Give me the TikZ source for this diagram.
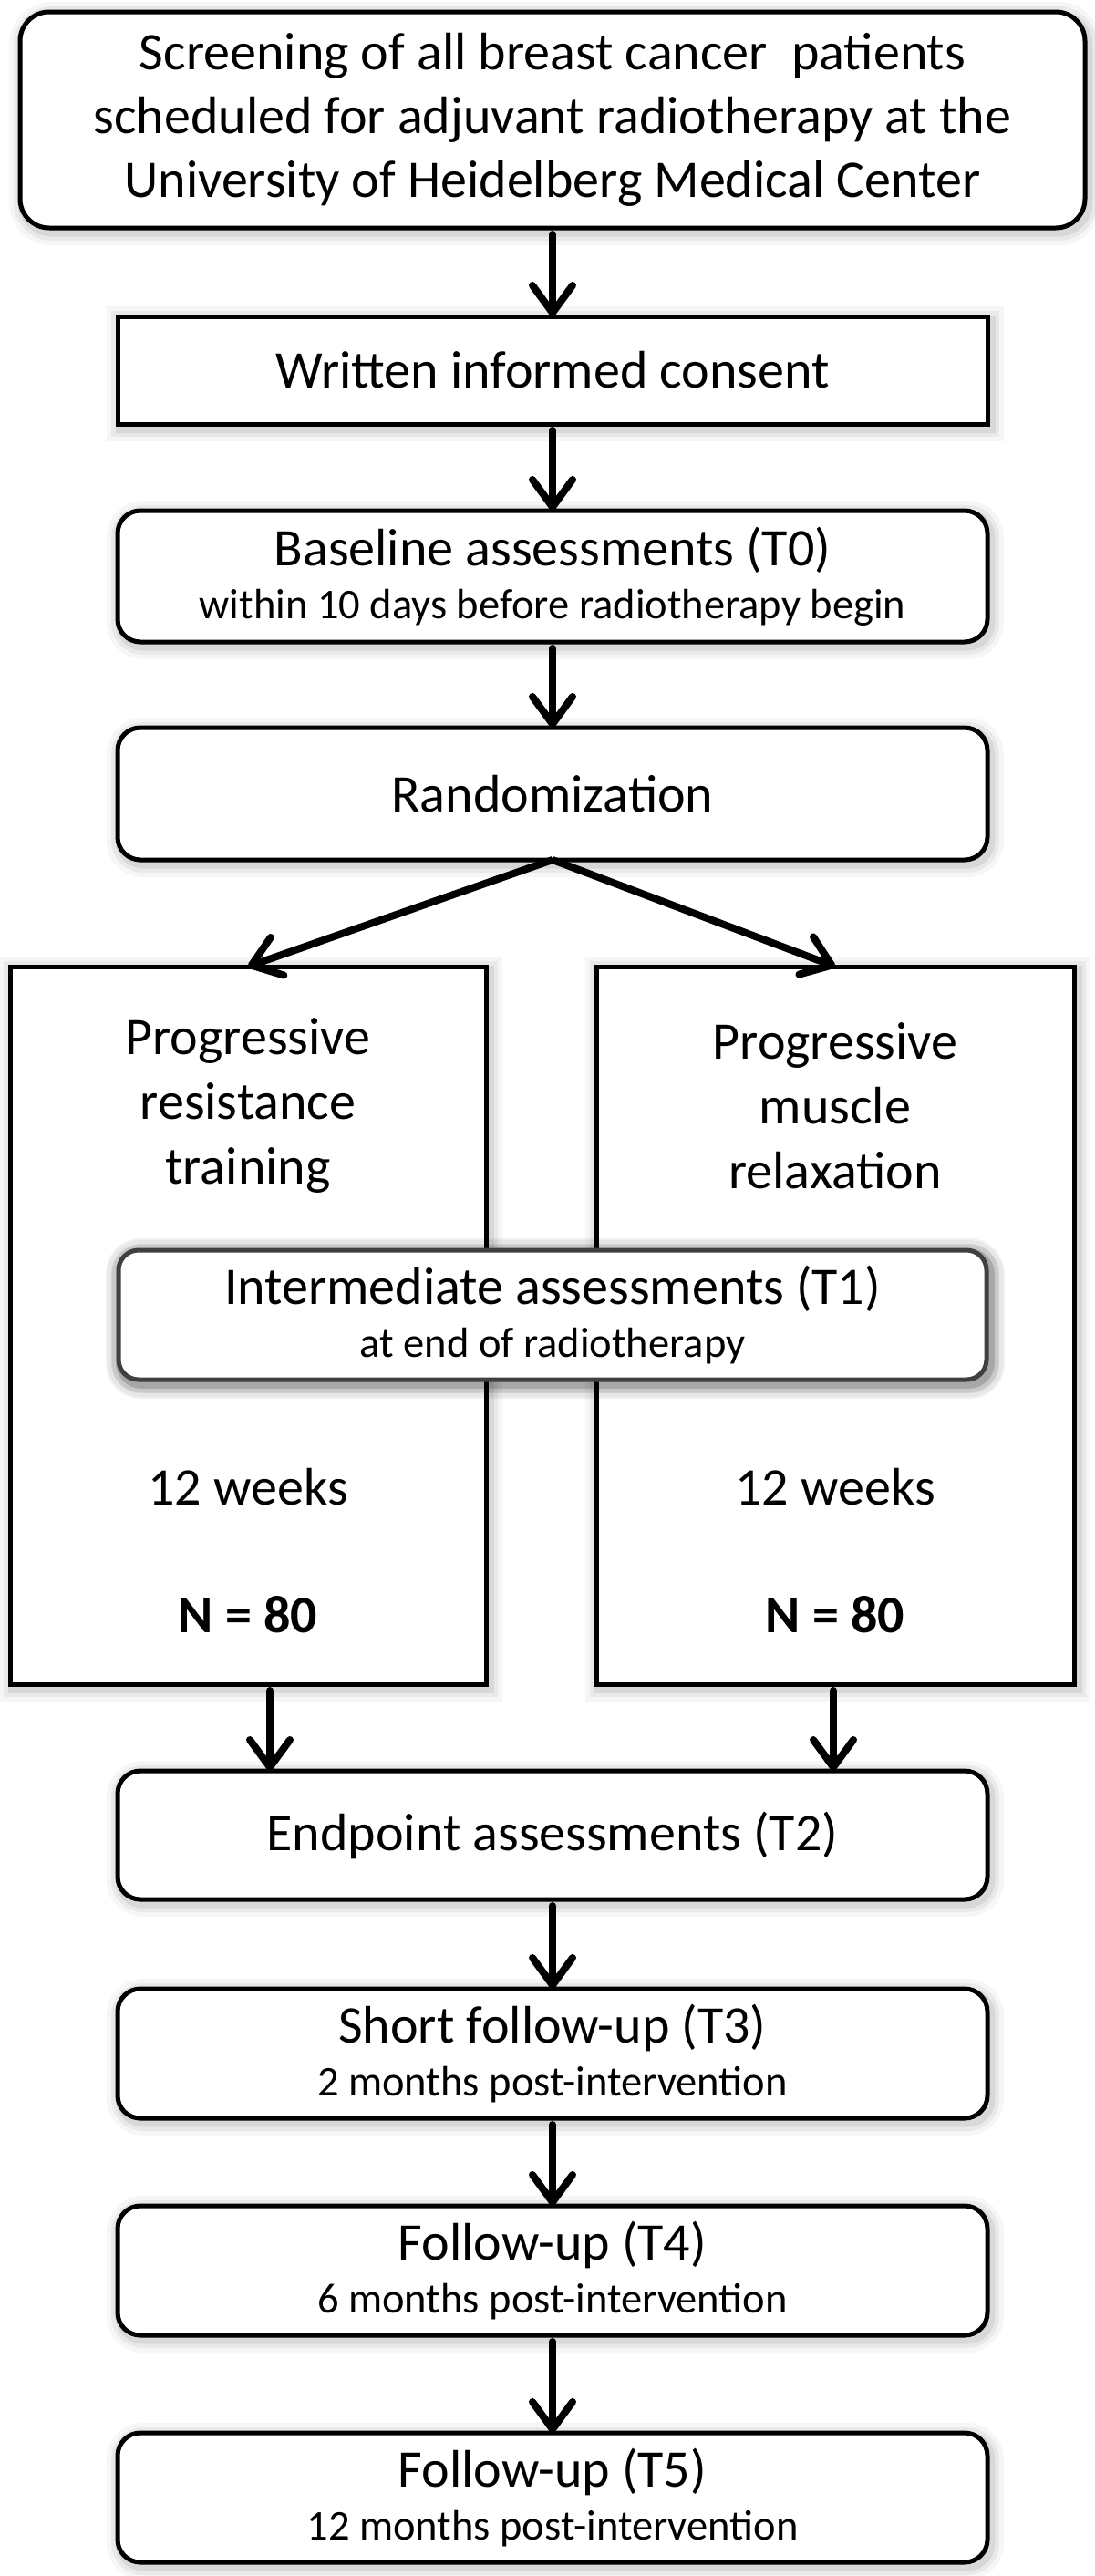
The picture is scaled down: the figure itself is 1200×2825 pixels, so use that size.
\documentclass[tikz,border=0pt]{standalone}
\usepackage{fontspec}
\setmainfont{Carlito}
\usetikzlibrary{arrows.meta}
\definecolor{intgray}{HTML}{404040}
\tikzset{
  glow/.style={
    preaction={draw=black, opacity=0.035, line width=30pt, transform canvas={shift={(3pt,-4pt)}}},
    preaction={draw=black, opacity=0.05, line width=20pt, transform canvas={shift={(3pt,-4pt)}}},
    preaction={draw=black, opacity=0.07, line width=11pt, transform canvas={shift={(3pt,-4pt)}}}},
  strongglow/.style={
    preaction={draw=black, opacity=0.06, line width=34pt, transform canvas={shift={(3pt,-4pt)}}},
    preaction={draw=black, opacity=0.08, line width=22pt, transform canvas={shift={(3pt,-4pt)}}},
    preaction={draw=black, opacity=0.10, line width=12pt, transform canvas={shift={(3pt,-4pt)}}}},
  box/.style={draw=black, fill=white, line width=5pt, inner sep=0pt, outer sep=0pt,
    align=center, glow, font=\fontsize{58}{70}\selectfont},
  rbox/.style={box, rounded corners=25pt},
  arr/.style={line width=8pt, line cap=round,
    -{Straight Barb[length=30pt, width=44pt, line width=8pt, round]}},
  lbl/.style={align=center, inner sep=0pt, font=\fontsize{58}{71}\selectfont}
}
\newcommand{\subl}[1]{{\fontsize{46.5}{50}\selectfont #1}}
\begin{document}
\begin{tikzpicture}[x=1pt, y=-1pt]
\useasboundingbox (0,0) rectangle (1200,2825);
\fill[white] (0,0) rectangle (1200,2825);

\node[box, rounded corners=32pt, minimum width=1168pt, minimum height=237pt] (top) at (606,131.5)
  {Screening of all breast cancer \ patients\\scheduled for adjuvant radiotherapy at the\\University of Heidelberg Medical Center};
\node[box, minimum width=954pt, minimum height=118pt] (consent) at (606,406) {Written informed consent};
\node[rbox, minimum width=954pt, minimum height=144pt] (base) at (606,632)
  {Baseline assessments (T0)\\[-12pt]\subl{within 10 days before radiotherapy begin}};
\node[rbox, minimum width=954pt, minimum height=145pt] (rand) at (606,870.5) {Randomization};

\node[box, minimum width=522pt, minimum height=787pt] (left) at (272,1453.5) {};
\node[box, minimum width=524pt, minimum height=787pt] (right) at (916,1453.5) {};
\node[lbl] (lt1) at (272,1213) {Progressive\\resistance\\training};
\node[lbl] (rt1) at (916,1213) {Progressive\\muscle\\relaxation};
\node[lbl] (lt2) at (272,1631) {12 weeks};
\node[lbl] (rt2) at (916,1631) {12 weeks};
\node[lbl, font=\fontsize{58}{70}\selectfont\bfseries] (lt3) at (272,1771) {N = 80};
\node[lbl, font=\fontsize{58}{70}\selectfont\bfseries] (rt3) at (916,1771) {N = 80};

\node[rbox, draw=intgray, strongglow, rounded corners=22pt, minimum width=952pt, minimum height=142pt] (inter) at (606,1442)
  {Intermediate assessments (T1)\\[-12pt]\subl{at end of radiotherapy}};

\node[rbox, minimum width=954pt, minimum height=141pt] (endp) at (606,2012.5) {Endpoint assessments (T2)};
\node[rbox, minimum width=954pt, minimum height=142pt] (t3) at (606,2252)
  {Short follow-up (T3)\\[-12pt]\subl{2 months post-intervention}};
\node[rbox, minimum width=954pt, minimum height=142pt] (t4) at (606,2490)
  {Follow-up (T4)\\[-12pt]\subl{6 months post-intervention}};
\node[rbox, minimum width=954pt, minimum height=142pt] (t5) at (606,2739)
  {Follow-up (T5)\\[-12pt]\subl{12 months post-intervention}};

\draw[arr, shorten <=7pt] (top.south) -- (consent.north);
\draw[arr, shorten <=7pt] (consent.south) -- (base.north);
\draw[arr, shorten <=7pt] (base.south) -- (rand.north);
\draw[arr, line cap=butt, line join=miter] (rand.south) -- (left.north);
\draw[arr, line cap=butt, line join=miter] (rand.south) -- (right.north);
\draw[arr, shorten <=7pt] ([xshift=24pt]left.south) -- ([xshift=24pt]left.south |- endp.north);
\draw[arr, shorten <=7pt] ([xshift=-2pt]right.south) -- ([xshift=-2pt]right.south |- endp.north);
\draw[arr, shorten <=7pt] (endp.south) -- (t3.north);
\draw[arr, shorten <=7pt] (t3.south) -- (t4.north);
\draw[arr, shorten <=7pt] (t4.south) -- (t5.north);
\end{tikzpicture}
\end{document}
